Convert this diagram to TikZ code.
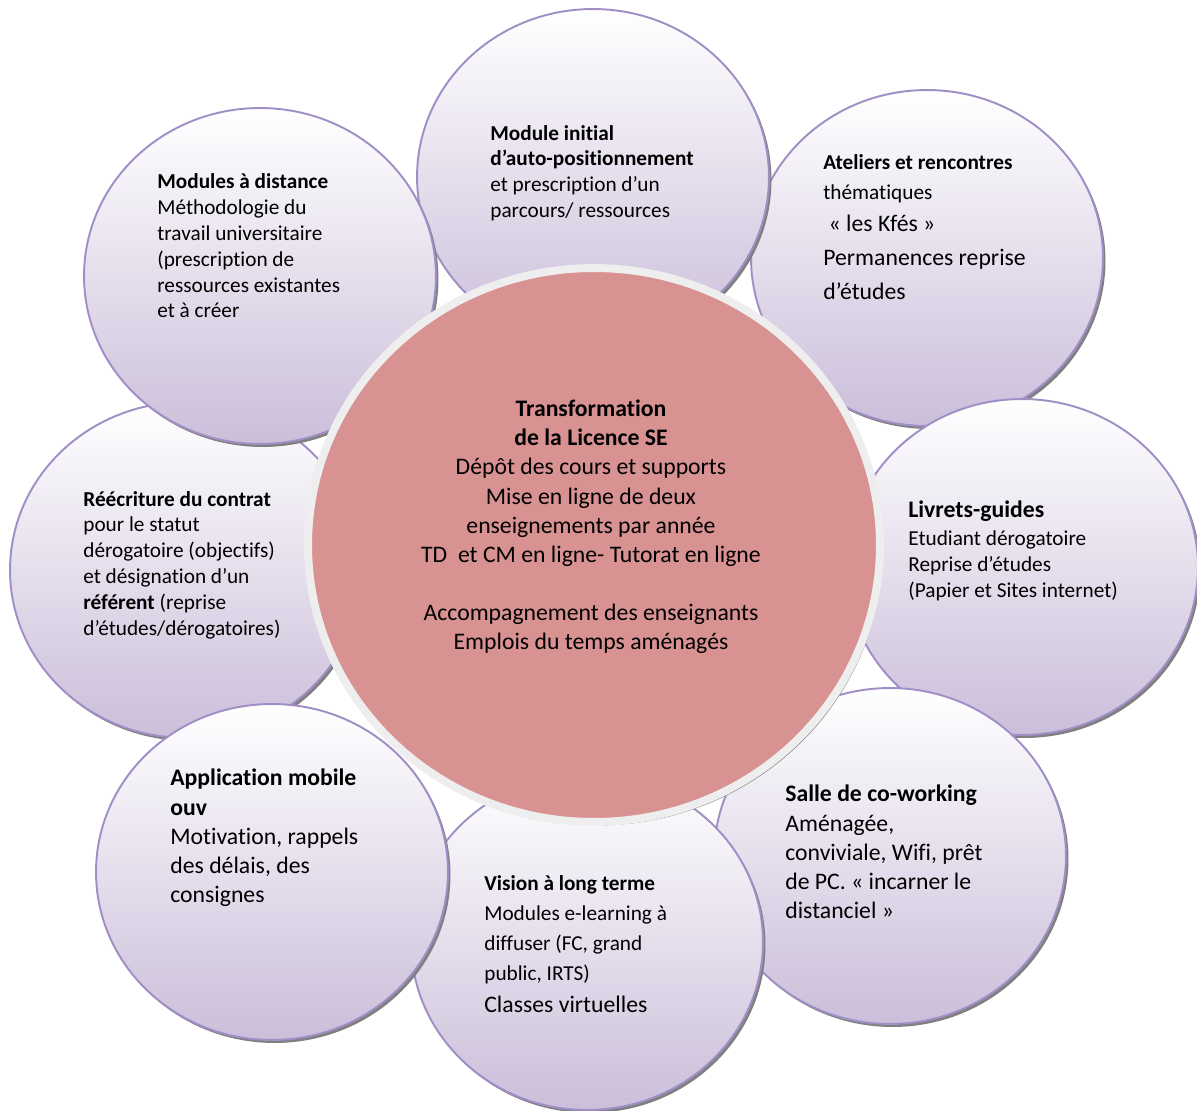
\documentclass[tikz,border=0pt]{standalone}
\usepackage{fontspec}
\setmainfont{Carlito}[Ligatures=NoCommon]
\usetikzlibrary{shapes.geometric,shadows}

\definecolor{lilas}{RGB}{203,190,218}
\definecolor{bordlilas}{RGB}{160,142,198}
\definecolor{rose}{RGB}{217,146,146}
\definecolor{anneau}{RGB}{238,238,238}

\tikzset{
	bulle/.style={ellipse, minimum width=7.04cm, minimum height=6.72cm, inner sep=0pt,
		draw=bordlilas, line width=1.1pt, top color=white, bottom color=lilas,
		drop shadow={shadow xshift=0.05cm, shadow yshift=-0.06cm, fill=black!50, opacity=1}},
	petit/.style={font=\fontsize{12.1}{14.7}\selectfont, align=left, anchor=west, inner sep=0pt},
	grand/.style={font=\fontsize{13.5}{16.6}\selectfont, align=left, anchor=west, inner sep=0pt},
}
\newcommand{\gros}[1]{{\fontsize{13.5}{16.6}\selectfont #1}}

\begin{document}
\begin{tikzpicture}[x=0.02cm,y=-0.02cm]
	\useasboundingbox (0,0) rectangle (1197,1111);

	% les bulles autour
	\node[bulle] (ateliers) at (927,258) {};
	\node[bulle] (livrets) at (1022,567) {};
	\node[bulle] (salle) at (890,856) {};
	\node[bulle] (vision) at (587,942) {};
	\node[bulle] (contrat) at (186,570) {};
	\node[bulle] (appli) at (272,872) {};
	\node[bulle] (modinit) at (593,177) {};
	\node[bulle] (distance) at (260,276) {};

	% le cercle central
	\node[ellipse, minimum width=11.44cm, minimum height=11.08cm, inner sep=0pt,
		draw=anneau, line width=4.5pt, fill=rose,
		drop shadow={shadow xshift=0.06cm, shadow yshift=-0.07cm, fill=black!50, opacity=1}]
		(centre) at (594,545) {};

	% les textes
	\node[grand, align=center, anchor=center] (t-centre) at (591,527)
		{\textbf{Transformation}\\ \textbf{de la Licence SE}\\ Dépôt des cours et supports\\
		Mise en ligne de deux\\ enseignements par année\\ TD~ et CM en ligne- Tutorat en ligne\\[16.6pt]
		Accompagnement des enseignants\\ Emplois du temps aménagés};
	\node[petit] (t-modinit) at (490,173)
		{\textbf{Module initial}\\ \textbf{d’auto-positionnement}\\ et prescription d’un\\ parcours/ ressources};
	\node[petit] (t-ateliers) at (823,227)
		{\textbf{Ateliers et rencontres}\\[2.3pt] thématiques\\[3.4pt] \gros{\ « les Kfés »}\\[4.6pt]
		\gros{Permanences reprise}\\[4.6pt] \gros{d’études}};
	\node[petit] (t-distance) at (157,246)
		{\textbf{Modules à distance}\\ Méthodologie du\\ travail universitaire\\ (prescription de\\
		ressources existantes\\ et à créer};
	\node[petit] (t-contrat) at (83,565)
		{\textbf{Réécriture du contrat}\\ pour le statut\\ dérogatoire (objectifs)\\ et désignation d’un\\
		\textbf{référent} (reprise\\ d’études/dérogatoires)};
	\node[petit] (t-livrets) at (908,551)
		{\gros{\textbf{Livrets-guides}}\\[1.2pt] Etudiant dérogatoire\\ Reprise d’études\\[0.6pt]
		(Papier et Sites internet)};
	\node[grand] (t-salle) at (785,852)
		{\textbf{Salle de co-working}\\ Aménagée,\\ conviviale, Wifi, prêt\\ de PC. « incarner le\\ distanciel »};
	\node[petit] (t-vision) at (484,944)
		{\textbf{Vision à long terme}\\[2.3pt] Modules e-learning à\\[2.3pt] diffuser (FC, grand\\[2.3pt]
		public, IRTS)\\[3.4pt] \gros{Classes virtuelles}};
	\node[grand] (t-appli) at (170,838)
		{\textbf{Application mobile}\\ \textbf{ouv}\\ Motivation, rappels\\ des délais, des\\ consignes};
\end{tikzpicture}
\end{document}
